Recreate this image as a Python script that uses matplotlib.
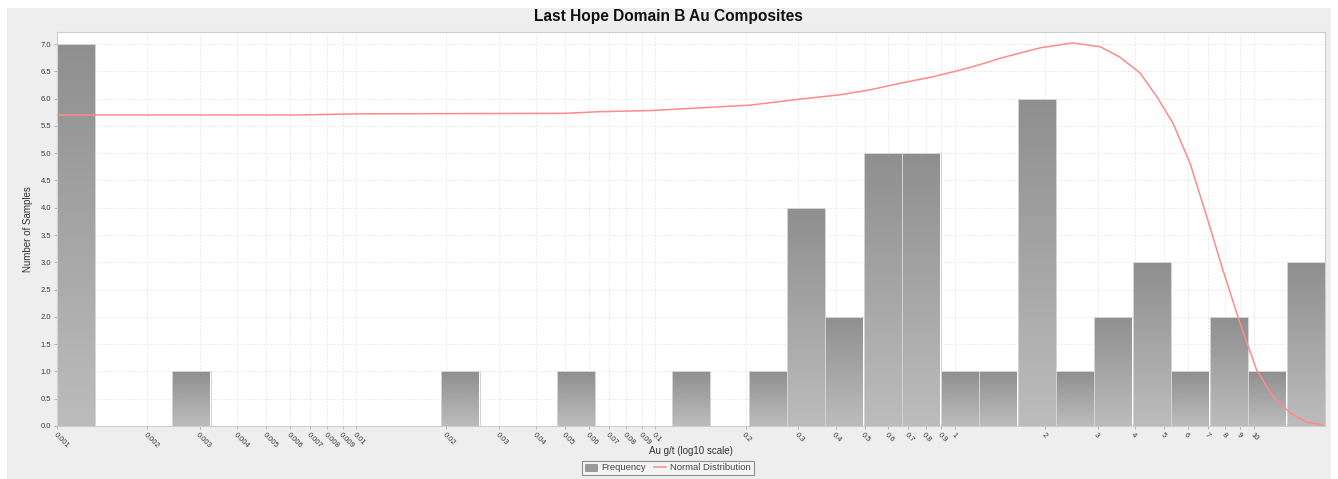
import numpy as np
import matplotlib

matplotlib.use("Agg")
import matplotlib.pyplot as plt
from matplotlib.colors import LinearSegmentedColormap
from matplotlib.lines import Line2D
from matplotlib.patches import Patch, Rectangle

plt.rcParams["font.family"] = ["Liberation Sans", "DejaVu Sans"]

TITLE = "Last Hope Domain B Au Composites"

# Histogram: 33 equal bins in log10 space between the min and max grade
GRADE_MIN = 0.001
GRADE_MAX = 17.27
BIN_COUNTS = [7, 0, 0, 1, 0, 0, 0, 0, 0, 0, 1, 0, 0, 1, 0, 0, 1,
              0, 1, 4, 2, 5, 5, 1, 1, 6, 1, 2, 3, 1, 2, 1, 3]

# Fitted normal curve, read at sample grades (g/t)
CURVE_X = [0.001, 0.0065, 0.01, 0.05, 0.065, 0.096, 0.141, 0.207, 0.304, 0.414,
           0.521, 0.656, 0.846, 1.04, 1.21, 1.42, 1.93, 2.48, 3.06, 3.56, 4.16,
           4.74, 5.36, 6.11, 6.96, 7.87, 8.97, 10.2, 11.6, 13.2, 15.0, 17.0]
CURVE_Y = [5.70, 5.70, 5.72, 5.73, 5.76, 5.78, 5.83, 5.88, 5.99, 6.07,
           6.16, 6.28, 6.40, 6.52, 6.62, 6.74, 6.93, 7.02, 6.95, 6.76, 6.47,
           6.03, 5.55, 4.82, 3.83, 2.86, 1.89, 1.03, 0.53, 0.24, 0.07, 0.02]

X_TICKS = [0.001, 0.002, 0.003, 0.004, 0.005, 0.006, 0.007, 0.008, 0.009,
           0.01, 0.02, 0.03, 0.04, 0.05, 0.06, 0.07, 0.08, 0.09,
           0.1, 0.2, 0.3, 0.4, 0.5, 0.6, 0.7, 0.8, 0.9,
           1, 2, 3, 4, 5, 6, 7, 8, 9, 10]
X_TICK_LABELS = ["0.001", "0.002", "0.003", "0.004", "0.005", "0.006", "0.007", "0.008", "0.009",
                 "0.01", "0.02", "0.03", "0.04", "0.05", "0.06", "0.07", "0.08", "0.09",
                 "0.1", "0.2", "0.3", "0.4", "0.5", "0.6", "0.7", "0.8", "0.9",
                 "1", "2", "3", "4", "5", "6", "7", "8", "9", "10"]
Y_TICKS = [0.0, 0.5, 1.0, 1.5, 2.0, 2.5, 3.0, 3.5, 4.0, 4.5, 5.0, 5.5, 6.0, 6.5, 7.0]

BG = "#eeeeee"
CURVE_COLOR = "#ff8a8a"
TICK_COLOR = "#3a3a3a"
bar_cmap = LinearSegmentedColormap.from_list("bar", ["#bcbcbc", "#8f8f8f"])

fig = plt.figure(figsize=(13.38, 4.79), dpi=100, facecolor="white")
# grey chart panel
fig.patches.append(Rectangle((7 / 1338, 0), 1324 / 1338, 1 - 8 / 479,
                             transform=fig.transFigure, facecolor=BG,
                             edgecolor="none", zorder=-10))

ax = fig.add_axes([57 / 1338, 1 - 426 / 479, 1268 / 1338, 394 / 479])
ax.set_facecolor("white")
ax.set_xscale("log")

edges = np.logspace(np.log10(GRADE_MIN), np.log10(GRADE_MAX), len(BIN_COUNTS) + 1)
grad = np.linspace(0, 1, 128).reshape(-1, 1)
for left, right, n in zip(edges[:-1], edges[1:], BIN_COUNTS):
    if n == 0:
        continue
    bar = ax.bar(left, n, width=right - left, align="edge", facecolor="none",
                 edgecolor="#d4d4d4", linewidth=0.7, zorder=3)[0]
    im = ax.imshow(grad, extent=(left, right, 0, n), origin="lower", aspect="auto",
                   cmap=bar_cmap, zorder=2, interpolation="bilinear")
    im.set_clip_path(bar)

ax.plot(CURVE_X, CURVE_Y, color=CURVE_COLOR, linewidth=1.1, zorder=4)

ax.set_xlim(GRADE_MIN, GRADE_MAX)
ax.set_ylim(0, 7.22)

ax.set_xticks(X_TICKS)
ax.set_xticklabels(X_TICK_LABELS, rotation=-45, ha="left", va="top",
                   rotation_mode="anchor", fontsize=5.5, color=TICK_COLOR)
ax.xaxis.set_minor_locator(matplotlib.ticker.NullLocator())
ax.set_yticks(Y_TICKS)
ax.set_yticklabels([f"{v:.1f}" for v in Y_TICKS], fontsize=5.5, color=TICK_COLOR)
ax.tick_params(axis="both", length=2, width=0.5, color="#999999", pad=2)

ax.grid(True, color="#e4e4e4", linestyle=(0, (2, 2)), linewidth=0.6, zorder=0)
ax.set_axisbelow(True)
for spine in ax.spines.values():
    spine.set_color("#cccccc")
    spine.set_linewidth(0.8)

ax.set_xlabel("Au g/t (log10 scale)", fontsize=7, color="#333333", labelpad=0)
ax.xaxis.set_label_coords(0.5, -0.05)
ax.set_ylabel("Number of Samples", fontsize=7, color="#333333")
ax.yaxis.set_label_coords(-0.019, 0.5)

fig.text(668 / 1338, 1 - 17 / 479, TITLE, ha="center", va="center",
         fontsize=11.2, fontweight="bold", color="#111111")

handles = [
    Patch(facecolor="#9a9a9a", edgecolor="#777777", linewidth=0.4),
    Line2D([], [], color=CURVE_COLOR, linewidth=1.1),
]
leg = fig.legend(handles, ["Frequency", "Normal Distribution"], loc="center",
                 bbox_to_anchor=(668 / 1338, 1 - 468 / 479), ncol=2, fontsize=6.8,
                 frameon=True, fancybox=False, handlelength=1.3, handleheight=0.8,
                 handletextpad=0.4, columnspacing=0.9, borderpad=0.3)
leg.get_frame().set_edgecolor("#777777")
leg.get_frame().set_facecolor("#f6f6f6")
leg.get_frame().set_linewidth(0.8)
for t in leg.get_texts():
    t.set_color("#444444")

fig.savefig("out.png", dpi=100, facecolor=fig.get_facecolor())
